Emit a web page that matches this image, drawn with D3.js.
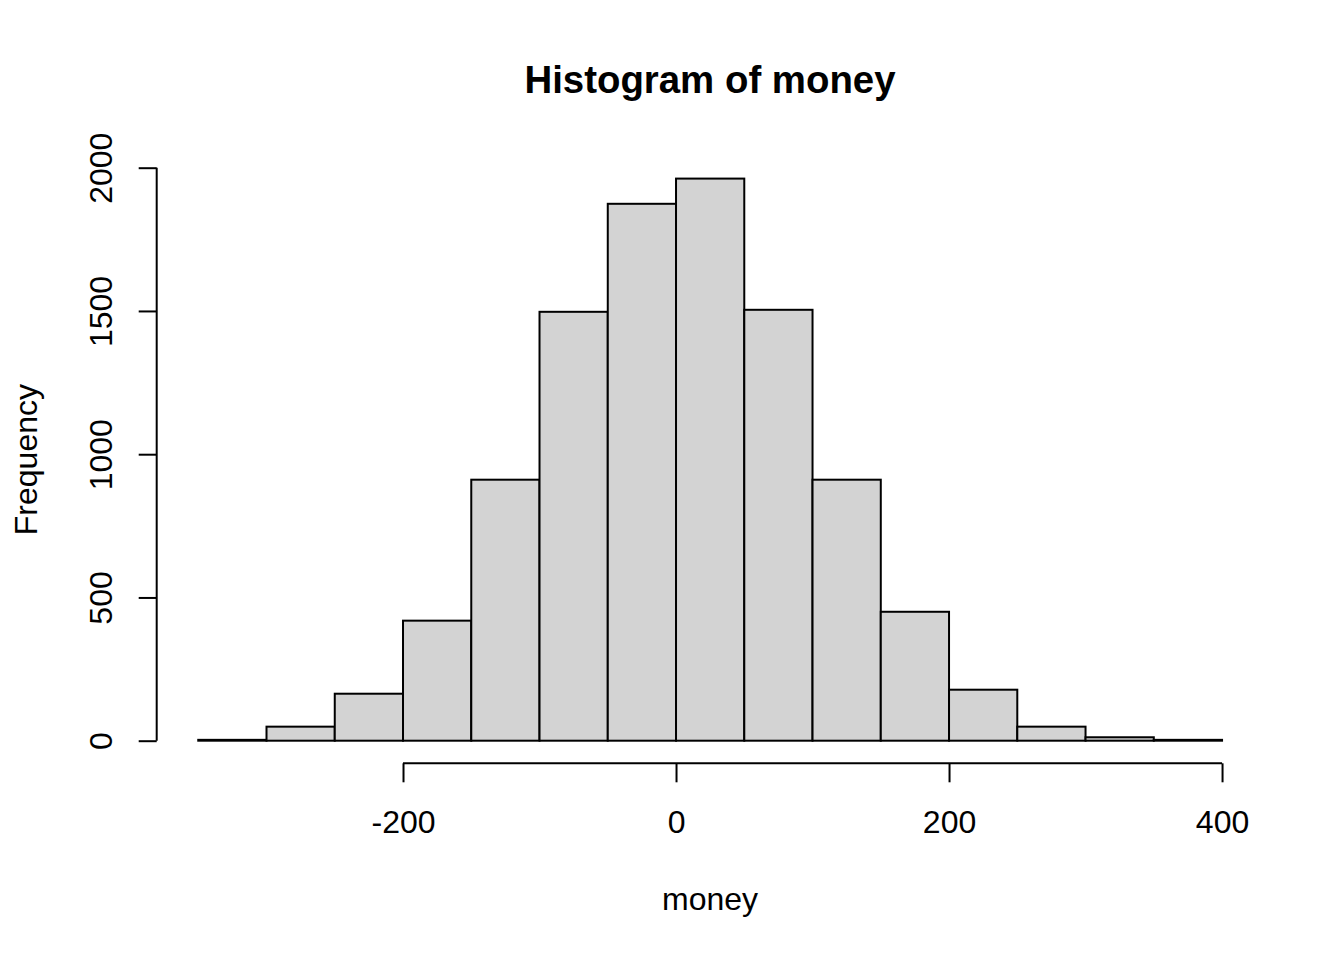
<!DOCTYPE html>
<html><head><meta charset="utf-8">
<script src="https://cdn.jsdelivr.net/npm/d3@7"></script>
<style>body{margin:0;background:#fff}svg{display:block}text{font-family:"Liberation Sans",Arial,sans-serif;fill:#000}</style>
</head><body>
<script>
const binStarts = [-350,-300,-250,-200,-150,-100,-50,0,50,100,150,200,250,300,350];
const binWidth = 50;
const counts = [3,49,164,419,911,1497,1874,1962,1504,911,450,178,49,12,3];
const xTicks = [-200,0,200,400];
const yTicks = [0,500,1000,1500,2000];
const title = "Histogram of money";
const xLabel = "money";
const yLabel = "Frequency";

const W=1344,H=960;
const svg=d3.select("body").append("svg").attr("width",W).attr("height",H);
const x=d3.scaleLinear().domain([-380,430]).range([157.3,1263]);
const y=d3.scaleLinear().domain([0,2000]).range([740.7,167.7]);
const lw=2;
const fs=32;
const fmt=(d)=>String(d);

svg.append("g").selectAll("rect").data(binStarts).join("rect")
  .attr("x",(d)=>x(d)).attr("width",(d)=>x(d+binWidth)-x(d))
  .attr("y",(d,i)=>y(counts[i])).attr("height",(d,i)=>y(0)-y(counts[i]))
  .attr("fill","#d3d3d3").attr("stroke","#000").attr("stroke-width",lw);

// x axis
const xa=svg.append("g").attr("transform","translate(0,763.3)")
  .call(d3.axisBottom(x).tickValues(xTicks).tickSize(19).tickSizeOuter(0).tickFormat(fmt));
xa.select(".domain").remove();
xa.append("line").attr("x1",x(xTicks[0])).attr("x2",x(xTicks[xTicks.length-1])).attr("stroke","#000").attr("stroke-width",lw);
xa.selectAll(".tick line").attr("stroke-width",lw);
xa.selectAll(".tick text").attr("font-size",fs).attr("dy",0).attr("y",70).style("font-family","'Liberation Sans',Arial,sans-serif");

// y axis
const ya=svg.append("g").attr("transform","translate(156.7,0)")
  .call(d3.axisLeft(y).tickValues(yTicks).tickSize(18).tickSizeOuter(0).tickFormat(fmt));
ya.select(".domain").remove();
ya.append("line").attr("y1",y(yTicks[0])).attr("y2",y(yTicks[yTicks.length-1])).attr("stroke","#000").attr("stroke-width",lw);
ya.selectAll(".tick line").attr("stroke-width",lw);
ya.selectAll(".tick text").attr("font-size",fs).attr("x",0).attr("dy",0)
  .attr("transform","translate(-45,0) rotate(-90)").attr("text-anchor","middle").style("font-family","'Liberation Sans',Arial,sans-serif");

svg.append("text").attr("x",710).attr("y",93).attr("text-anchor","middle").attr("font-size",38.4).attr("font-weight","bold").text(title);
svg.append("text").attr("x",710).attr("y",910).attr("text-anchor","middle").attr("font-size",fs).text(xLabel);
svg.append("text").attr("transform","translate(37,459.6) rotate(-90)").attr("text-anchor","middle").attr("font-size",fs).text(yLabel);
</script>
</body></html>
